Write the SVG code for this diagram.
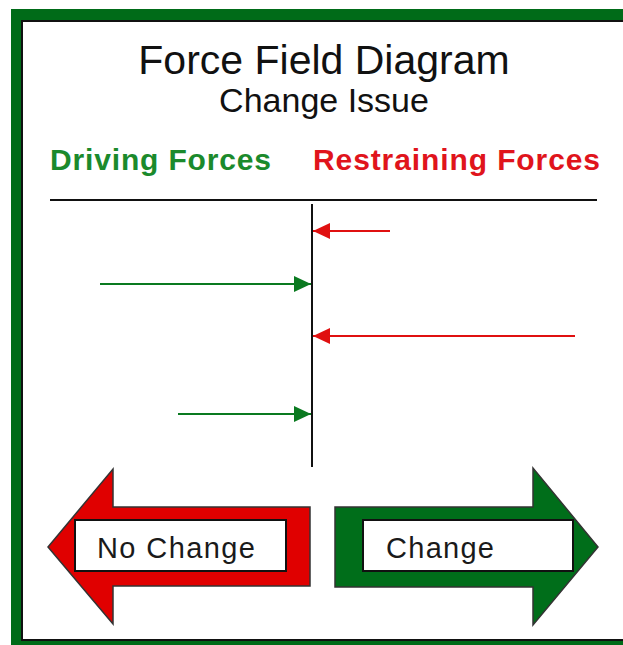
<svg xmlns="http://www.w3.org/2000/svg" width="623" height="645" viewBox="0 0 623 645">
<style>
.t{font-family:"Liberation Sans",Arial,sans-serif;}
.h{font-weight:bold;font-size:30px;}
.axis{stroke:#111;stroke-width:2;fill:none;}
.red{stroke:#e01010;stroke-width:2;}
.grn{stroke:#0a7a20;stroke-width:2;}
.box{fill:#fff;stroke:#111;stroke-width:2;}
.lbl{font-size:29px;fill:#1a1a1a;}
</style>
<defs>
<marker id="ar" markerUnits="userSpaceOnUse" markerWidth="17" markerHeight="16" refX="17" refY="8" orient="auto">
<path d="M0,0 L17,8 L0,16 z" fill="#e01010"/>
</marker>
<marker id="ag" markerUnits="userSpaceOnUse" markerWidth="17" markerHeight="16" refX="17" refY="8" orient="auto">
<path d="M0,0 L17,8 L0,16 z" fill="#0a7a20"/>
</marker>
</defs>
<g id="frame">
<rect x="11" y="9" width="620" height="645" fill="#006b18"/>
<rect x="22" y="21" width="610" height="619" fill="#fff" stroke="#111" stroke-width="2"/>
</g>
<g id="title">
<text class="t" x="324" y="74" font-size="41" text-anchor="middle" fill="#111">Force Field Diagram</text>
<text class="t" x="324" y="112" font-size="34" text-anchor="middle" fill="#111">Change Issue</text>
</g>
<g id="driving-heading">
<text class="t h" x="50" y="170" fill="#1b8a2c" textLength="221">Driving Forces</text>
</g>
<g id="restraining-heading">
<text class="t h" x="313" y="170" fill="#e0141c" textLength="287">Restraining Forces</text>
</g>
<g id="axes">
<line class="axis" x1="50" y1="200" x2="597" y2="200"/>
<line class="axis" x1="312" y1="204" x2="312" y2="467"/>
</g>
<g id="connectors">
<line class="red" x1="390" y1="231" x2="313" y2="231" marker-end="url(#ar)"/>
<line class="grn" x1="100" y1="284" x2="311" y2="284" marker-end="url(#ag)"/>
<line class="red" x1="575" y1="336" x2="313" y2="336" marker-end="url(#ar)"/>
<line class="grn" x1="178" y1="414" x2="311" y2="414" marker-end="url(#ag)"/>
</g>
<g id="no-change">
<polygon points="48,547 113,469 113,507 310,507 310,586 113,586 113,624" fill="#e00000" stroke="#333" stroke-width="1.5"/>
<rect class="box" x="75" y="520" width="211" height="51"/>
<text class="t lbl" x="97" y="558" textLength="158">No Change</text>
</g>
<g id="change">
<polygon points="335,507 533,507 533,468 598,547 533,625 533,587 335,587" fill="#006e1a" stroke="#333" stroke-width="1.5"/>
<rect class="box" x="363" y="520" width="210" height="51"/>
<text class="t lbl" x="386" y="558" textLength="108">Change</text>
</g>
</svg>
